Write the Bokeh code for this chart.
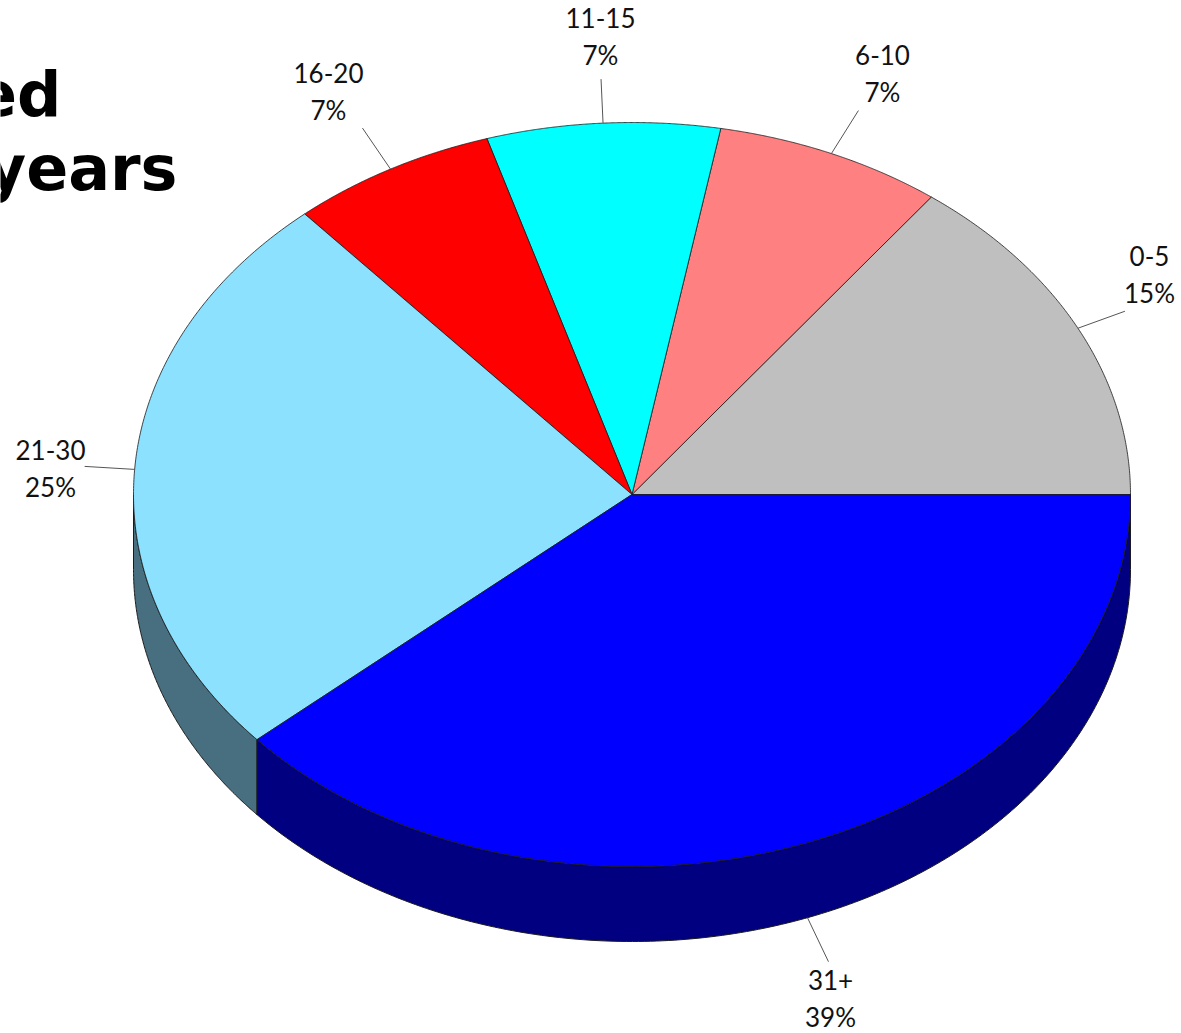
import numpy as np
from bokeh.plotting import figure
from bokeh.models import Range1d, ColumnDataSource
from bokeh.core.properties import value
from bokeh.embed import file_html
from bokeh.resources import INLINE

# ---- data
categories = ["0-5", "6-10", "11-15", "16-20", "21-30", "31+"]
shares = [14.75, 7.4, 7.55, 6.7, 25.05, 38.55]   # measured slice sizes
pct_labels = ["15%", "7%", "7%", "7%", "25%", "39%"]
top_colors = ["#BFBFBF", "#FF8080", "#00FFFF", "#FF0000", "#8CE1FF", "#0000FF"]
side_colors = ["#606060", "#804040", "#008080", "#800000", "#486F7F", "#000080"]
title_lines = ["ed", "years"]

# ---- layout
W, H = 1181, 1033
CX, CY, RX, RY, DEPTH = 631.5, 494, 498.5, 372, 75
leader_offsets = [(47, -17), (27, -43), (-2, -44), (-28, -41), (-50, -3), (21, 44)]
label_pos = [(1149, 255), (882, 54), (600, 17), (328, 72), (50, 449), (830, 979)]
LINE_GAP = 37

p = figure(width=W, height=H, output_backend="svg", toolbar_location=None,
           x_range=Range1d(0, W), y_range=Range1d(H, 0),
           min_border=0, outline_line_color=None, background_fill_color="white")
p.axis.visible = False
p.grid.visible = False

edges = np.concatenate([[0], np.cumsum(shares)]) / sum(shares) * 360.0


def ell(t, dy=0.0):
    r = np.radians(t)
    return CX + RX * np.cos(r), CY - RY * np.sin(r) + dy


# sides (visible only in the lower half of the ellipse)
sx, sy, sc = [], [], []
for a, b, c in zip(edges[:-1], edges[1:], side_colors):
    lo, hi = max(a, 180.0), min(b, 360.0)
    if hi <= lo:
        continue
    t = np.linspace(lo, hi, 200)
    x0, y0 = ell(t)
    x1, y1 = ell(t[::-1], DEPTH)
    sx.append(np.concatenate([x0, x1]).tolist())
    sy.append(np.concatenate([y0, y1]).tolist())
    sc.append(c)
p.patches("x", "y", source=ColumnDataSource(dict(x=sx, y=sy, c=sc)),
          fill_color="c", line_color="#1a1a1a", line_width=1)

# top face
tx, ty = [], []
for a, b in zip(edges[:-1], edges[1:]):
    t = np.linspace(a, b, 200)
    x0, y0 = ell(t)
    tx.append([CX] + x0.tolist())
    ty.append([CY] + y0.tolist())
p.patches("x", "y", source=ColumnDataSource(dict(x=tx, y=ty, c=top_colors)),
          fill_color="c", line_color="#1a1a1a", line_width=0.8)

# leaders and labels
mids = (edges[:-1] + edges[1:]) / 2
for i, m in enumerate(mids):
    ax, ay = ell(m, DEPTH if 225 < m < 360 else 0)
    dx, dy = leader_offsets[i]
    p.line([ax, ax + dx], [ay, ay + dy], line_color="#555555", line_width=1)
    lx, ly = label_pos[i]
    for txt, yy in ((categories[i], ly), (pct_labels[i], ly + LINE_GAP)):
        p.text([lx], [yy], text=[txt], text_font=value("Lato"),
               text_font_size="26px", text_color="#111111",
               text_align="center", text_baseline="middle")

# title, cut by the left edge of the page as in the reference
p.text([61], [94], text=[title_lines[0]], text_font=value("DejaVu Sans"), text_font_style="bold",
       text_font_size="62px", text_color="black", text_align="right", text_baseline="middle")
p.text([177], [168], text=[title_lines[1]], text_font=value("DejaVu Sans"), text_font_style="bold",
       text_font_size="62px", text_color="black", text_align="right", text_baseline="middle")

open("out.html", "w").write(file_html(p, INLINE))
